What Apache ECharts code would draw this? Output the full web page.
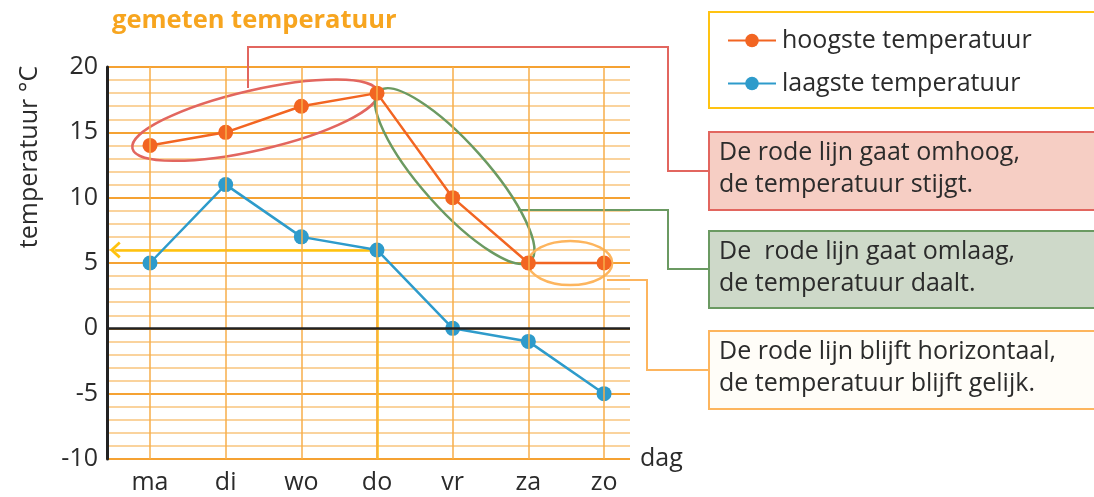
<!DOCTYPE html>
<html><head><meta charset="utf-8">
<script src="https://cdn.jsdelivr.net/npm/echarts@6/dist/echarts.min.js"></script>
<style>html,body{margin:0;padding:0;background:#fff}#c{width:1094px;height:497px}</style>
</head><body><div id="c"></div>
<script>
const days = ['ma','di','wo','do','vr','za','zo'];
const hoogste = [14,15,17,18,10,5,5];
const laagste = [5,11,7,6,0,-1,-5];
const yTicks = [-10,-5,0,5,10,15,20];
const xMin = -0.568, xMax = 6.343;
const FONT = 'Open Sans';
const TXT = '#2b2b2b';
const FS = 25;

const chart = echarts.init(document.getElementById('c'));
const dayIdx = days.map((d,i)=>i);

const option = {
  animation:false,
  textStyle:{fontFamily:FONT},
  title:{text:'gemeten temperatuur',left:107,top:3,textStyle:{color:'#F7A51F',fontSize:25.5,fontWeight:'bold',fontFamily:FONT}},
  grid:{left:107,top:67,right:464,bottom:38},
  legend:{
    left:722, top:23, orient:'vertical', itemWidth:48, itemHeight:17, itemGap:18,
    textStyle:{fontSize:FS,color:TXT,fontFamily:FONT,padding:[0,0,0,1]},
    data:['hoogste temperatuur','laagste temperatuur']
  },
  xAxis:{
    type:'value', min:xMin, max:xMax,
    axisLine:{show:false,onZero:false}, splitLine:{show:false},
    axisTick:{show:false, customValues:dayIdx},
    axisLabel:{customValues:dayIdx, fontSize:FS, color:TXT, margin:11, fontFamily:FONT,
      formatter:v=>days[Math.round(v)]||''},
    name:'dag', nameLocation:'end', nameGap:10,
    nameTextStyle:{fontSize:FS,color:TXT,fontFamily:FONT,padding:[48,0,0,0]}
  },
  yAxis:{
    type:'value', min:-10, max:20, interval:5,
    axisLine:{show:true,onZero:false,lineStyle:{color:'#222',width:3}},
    axisTick:{show:false},
    axisLabel:{fontSize:FS,color:TXT,margin:9,fontFamily:FONT,customValues:yTicks},
    splitLine:{show:true,lineStyle:{color:'#F5A233',width:2.2}},
    minorTick:{show:false,splitNumber:5},
    minorSplitLine:{show:true,lineStyle:{color:'#F9C57E',width:1.5}}
  },
  graphic:[],
  series:[
    {
      name:'grid-v', type:'line', data:[], silent:true, z:1,
      markLine:{silent:true,symbol:['none','none'],label:{show:false},
        lineStyle:{color:'#F7AE4A',width:1.5,type:'solid'},
        data:dayIdx.map(i=>({xAxis:i}))}
    },
    {
      name:'zero', type:'line', data:[], silent:true, z:1,
      markLine:{silent:true,symbol:['none','none'],label:{show:false},
        lineStyle:{color:'#222',width:2.5,type:'solid'},
        data:[{yAxis:0}]}
    },
    {
      name:'hoogste temperatuur', type:'line', z:4,
      data:hoogste.map((v,i)=>[i,v]),
      lineStyle:{color:'#F26522',width:2.5}, itemStyle:{color:'#F26522'},
      symbol:'circle', symbolSize:15, showSymbol:true
    },
    {
      name:'laagste temperatuur', type:'line', z:4,
      data:laagste.map((v,i)=>[i,v]),
      lineStyle:{color:'#2E9BCB',width:2.5}, itemStyle:{color:'#2E9BCB'},
      symbol:'circle', symbolSize:15, showSymbol:true,
      markLine:{silent:true, label:{show:false}, z:3,
        lineStyle:{color:'#FFC20E',width:2.5,type:'solid'},
        data:[
          [{coord:[3,laagste[3]],symbol:'none'},{coord:[-0.46,laagste[3]],symbol:'path://M0,10 L10,0 L20,10 L17.5,12 L10,4.5 L2.5,12 Z',symbolSize:[17,11]}],
          [{coord:[3,laagste[3]],symbol:'none'},{coord:[3,-10],symbol:'none'}]
        ]}
    }
  ]
};
chart.setOption(option);

const P = (x,y)=>chart.convertToPixel({gridIndex:0},[x,y]);
function ellipseBetween(a,b,extraL,extraR,ry,shift,color){
  const dx=b[0]-a[0], dy=b[1]-a[1];
  const len=Math.hypot(dx,dy), ux=dx/len, uy=dy/len;
  const start=[a[0]-ux*extraL, a[1]-uy*extraL], end=[b[0]+ux*extraR, b[1]+uy*extraR];
  const cx=(start[0]+end[0])/2 + shift[0], cy=(start[1]+end[1])/2 + shift[1];
  const rx=Math.hypot(end[0]-start[0],end[1]-start[1])/2;
  return {type:'ellipse', x:cx, y:cy, rotation:-Math.atan2(dy,dx), z:3,
    shape:{cx:0,cy:0,rx:rx,ry:ry}, style:{fill:'none',stroke:color,lineWidth:2.5}, silent:true};
}
const pMa=P(0,hoogste[0]), pDo=P(3,hoogste[3]), pZa=P(5,hoogste[5]), pZo=P(6,hoogste[6]);

const boxText = (x,y,lines)=>({type:'text',x:x,y:y,z:10,style:{text:lines.join('\n'),fontSize:FS,lineHeight:32,fill:TXT,fontFamily:FONT}});
const g = [
  ellipseBetween(pMa,pDo,18,1,30,[0,-1],'#E2665F'),
  ellipseBetween(pDo,pZa,0,0,33,[2,-2],'#6B9A62'),
  {type:'ellipse',x:(pZa[0]+pZo[0])/2+4,y:pZa[1],z:3,shape:{cx:0,cy:0,rx:42,ry:22},style:{fill:'none',stroke:'#FDB55E',lineWidth:2.5},silent:true},
  {type:'polyline',z:3,shape:{points:[[248,88],[248,47],[668,47],[668,171],[709,171]]},style:{fill:'none',stroke:'#E2665F',lineWidth:2}},
  {type:'polyline',z:3,shape:{points:[[518,210],[668,210],[668,269],[709,269]]},style:{fill:'none',stroke:'#6B9A62',lineWidth:2}},
  {type:'polyline',z:3,shape:{points:[[607,280],[647,280],[647,370],[709,370]]},style:{fill:'none',stroke:'#FDB55E',lineWidth:2}},
  {type:'rect',z:2,shape:{x:709,y:12,width:400,height:96},style:{fill:'#fff',stroke:'#FFC312',lineWidth:2}},
  {type:'rect',z:5,shape:{x:709,y:132,width:400,height:78},style:{fill:'#F6CEC4',stroke:'#E2665F',lineWidth:2}},
  {type:'rect',z:5,shape:{x:709,y:231,width:400,height:77},style:{fill:'#CED9C9',stroke:'#6B9A62',lineWidth:2}},
  {type:'rect',z:5,shape:{x:709,y:331,width:400,height:78},style:{fill:'#FFFDF8',stroke:'#FDB55E',lineWidth:2}},
  boxText(719,137,['De rode lijn gaat omhoog,','de temperatuur stijgt.']),
  boxText(719,236,['De  rode lijn gaat omlaag,','de temperatuur daalt.']),
  boxText(719,336,['De rode lijn blijft horizontaal,','de temperatuur blijft gelijk.']),
  {type:'text',x:30,y:157,rotation:Math.PI/2,z:10,style:{text:'temperatuur °C',fontSize:FS,fill:TXT,fontFamily:FONT,align:'center',verticalAlign:'middle'}}
];
chart.setOption({graphic:g});
</script></body></html>
